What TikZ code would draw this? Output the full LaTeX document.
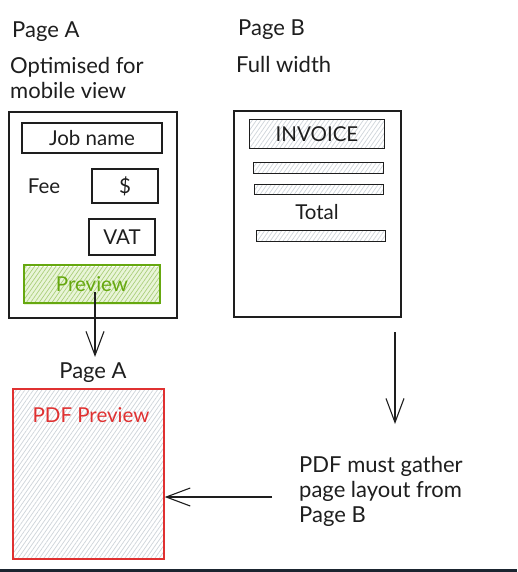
\documentclass[tikz,border=0pt]{standalone}
\usepackage{fontspec}
\setmainfont{Lato}
\usetikzlibrary{arrows.meta,patterns.meta}
\definecolor{ink}{HTML}{1E1E1E}
\definecolor{lime}{HTML}{66A80F}
\definecolor{limebg}{HTML}{E9F5D8}
\definecolor{redc}{HTML}{E03131}
\definecolor{hatch}{HTML}{CED4DA}
\definecolor{strip}{HTML}{1B2530}
\tikzset{
  box/.style={draw=ink, line width=1.3pt, rectangle, inner sep=0pt},
  hatched/.style={pattern={Lines[angle=55,distance=3.5pt,line width=0.7pt]}, pattern color=hatch},
  lbl/.style={font=\fontsize{22}{25}\selectfont, text=ink, inner sep=0pt},
  txt/.style={font=\fontsize{20.5}{22}\selectfont, text=ink, inner sep=0pt},
  arr/.style={draw=ink, line width=1.2pt, -{Straight Barb[length=24pt,width=18pt,line width=1.1pt]}},
}
\begin{document}
\begin{tikzpicture}[x=1pt,y=-1pt]
\useasboundingbox (0,0) rectangle (517,572);
\fill[white] (0,0) rectangle (517,572);
\fill[strip] (0,568.5) rectangle (517,572);

% Page A
\node[lbl, anchor=west] (pa) at (12,32) {Page A};
\node[lbl, anchor=north west, align=left] (pad) at (10,57) {Optimised for\\mobile view};
\node[box, minimum width=168pt, minimum height=206pt] (pagea) at (93,215) {};
\node[box, minimum width=140pt, minimum height=30pt, txt] (job) at (92,138) {Job name};
\node[txt] (fee) at (44,186) {Fee};
\node[box, minimum width=66pt, minimum height=34pt, txt] (dollar) at (125,186) {\$};
\node[box, minimum width=66pt, minimum height=36pt, txt] (vat) at (122,237) {VAT};
\fill[limebg] (24,267) rectangle (160,305);
\node[draw=lime, line width=1.3pt, minimum width=136pt, minimum height=38pt, inner sep=0pt,
      pattern={Lines[angle=55,distance=3.5pt,line width=0.7pt]}, pattern color=lime!55,
      txt, text=lime] (prev) at (92,284) {Preview};

% Page A result
\node[lbl] (pa2) at (93,373) {Page A};
\draw[arr] ([xshift=3pt,yshift=11pt]prev.south) -- ([xshift=2pt,yshift=6pt]pa2.north);
\node[draw=redc, line width=1.3pt, minimum width=151pt, minimum height=170pt, inner sep=0pt, hatched] (pdf) at (88.5,474) {};
\node[txt, text=redc] (pdft) at (91,415) {PDF Preview};

% Page B
\node[lbl, anchor=west] (pb) at (238,30) {Page B};
\node[lbl, anchor=west] (pbd) at (236,64) {Full width};
\node[box, minimum width=167pt, minimum height=206pt] (pageb) at (317.5,214) {};
\node[box, line width=1pt, minimum width=135pt, minimum height=29pt, hatched, txt] (inv) at (317,134) {INVOICE};
\node[box, line width=1pt, minimum width=130pt, minimum height=10pt, hatched] (bar1) at (318,168) {};
\node[box, line width=1pt, minimum width=129pt, minimum height=10pt, hatched] (bar2) at (318.5,189) {};
\node[txt] (total) at (317,212) {Total};
\node[box, line width=1pt, minimum width=129pt, minimum height=11pt, hatched] (bar3) at (320.5,235.5) {};

% note
\node[lbl, anchor=north west, align=left] (note) at (299,456) {PDF must gather\\page layout from\\Page B};
\coordinate (bstart) at (395,332);
\coordinate (bend) at (395,424);
\draw[arr] (bstart) -- (bend);
\coordinate (lstart) at (272,497);
\draw[arr] (lstart) -- (pdf.east |- lstart);
\end{tikzpicture}
\end{document}
